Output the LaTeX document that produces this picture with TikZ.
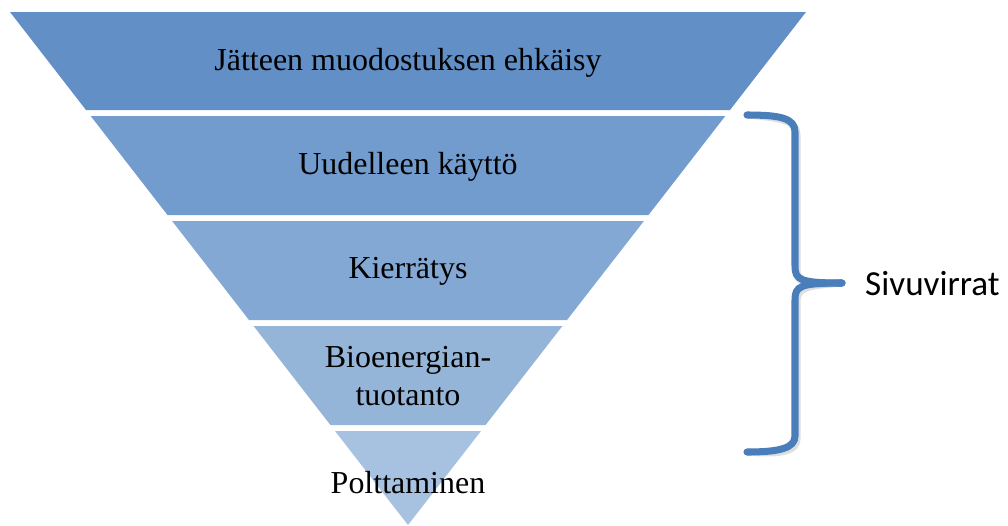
\documentclass[tikz,border=0pt]{standalone}
\usepackage{fontspec}
\setmainfont{Liberation Serif}
\newfontfamily\calibri{Carlito}
\usepackage{tikz}
\usetikzlibrary{positioning,calc}

\definecolor{bandA}{RGB}{98,143,198}
\definecolor{bandB}{RGB}{114,156,206}
\definecolor{bandC}{RGB}{131,168,211}
\definecolor{bandD}{RGB}{148,180,216}
\definecolor{bandE}{RGB}{167,194,225}
\definecolor{braceblue}{RGB}{74,126,187}

\begin{document}
\begin{tikzpicture}[
    x=0.02cm, y=-0.02cm,
    lbl/.style={font=\fontsize{18.2}{22}\selectfont, align=center, text=black},
    side/.style={font=\calibri\fontsize{20}{24}\selectfont, anchor=west},
    brace/.style={draw=braceblue, line width=4pt, line cap=round, line join=round},
    braceshadow/.style={draw=black!25, line width=4pt, line cap=round, opacity=0.5}
]
\useasboundingbox (0,0) rectangle (1008,525);

% funnel bands
\fill[bandA] (10,12) -- (806,12) -- (730,110) -- (86,110) -- cycle;
\fill[bandB] (90.7,116) -- (725.3,116) -- (648.5,215) -- (167.5,215) -- cycle;
\fill[bandC] (172.1,221) -- (643.9,221) -- (567,320) -- (249,320) -- cycle;
\fill[bandD] (253.6,326) -- (562.4,326) -- (485.6,425) -- (330.4,425) -- cycle;
\fill[bandE] (335,431) -- (481,431) -- (408,525) -- cycle;

\node[lbl] (ehkaisy) at (408,63) {Jätteen muodostuksen ehkäisy};
\node[lbl] (kaytto) at (408,167) {Uudelleen käyttö};
\node[lbl] (kierratys) at (408,271) {Kierrätys};
\node[lbl] (bio) at (408,376) {Bioenergian-\\tuotanto};
\node[lbl] (poltto) at (408,483) {Polttaminen};

% brace
\coordinate (bt) at (747,115);
\coordinate (bb) at (747,452);
\coordinate (tip) at (842,283);
\begin{scope}[shift={(2,3)}]
\draw[braceshadow] (bt) .. controls (780,115) and (795,118) .. (795,132) -- (795,266)
    .. controls (795,280) and (800,283) .. (tip);
\draw[braceshadow] (tip) .. controls (800,283) and (795,286) .. (795,300) -- (795,436)
    .. controls (795,448) and (780,452) .. (bb);
\end{scope}
\draw[brace] (bt) .. controls (780,115) and (795,118) .. (795,132) -- (795,266)
    .. controls (795,280) and (800,283) .. (tip);
\draw[brace] (tip) .. controls (800,283) and (795,286) .. (795,300) -- (795,436)
    .. controls (795,448) and (780,452) .. (bb);

\node[side] (sivu) at (859,284) {Sivuvirrat};
\end{tikzpicture}
\end{document}
